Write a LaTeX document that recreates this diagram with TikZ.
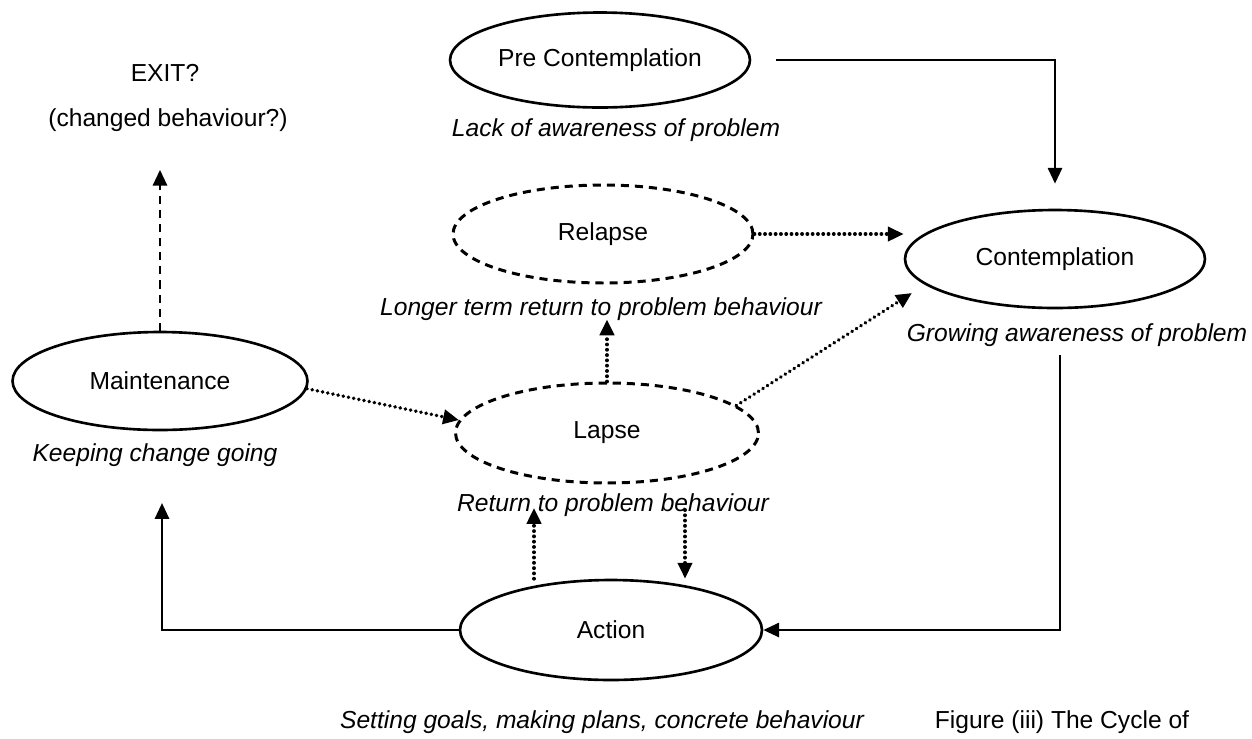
\documentclass[tikz,border=0pt]{standalone}
\usepackage{fontspec}
\setmainfont{Liberation Sans}
\usetikzlibrary{shapes.geometric,arrows.meta}
\begin{document}
\begin{tikzpicture}[x=0.02cm,y=-0.02cm,
  stage/.style={ellipse, draw, line width=1.5pt, inner sep=0pt,
    font=\fontsize{14}{17}\selectfont},
  loose/.style={stage, line width=1.7pt, dash pattern=on 4.6pt off 3.4pt},
  caption/.style={font=\fontsize{14}{17}\selectfont\itshape, inner sep=0pt},
  plain/.style={font=\fontsize{14}{17}\selectfont, inner sep=0pt},
  tip/.style={-{Triangle[length=9pt,width=8pt]}},
  arr/.style={tip, line width=1.5pt},
  dotarr/.style={tip, line width=2.2pt, line cap=round, dash pattern=on 0.01pt off 3pt},
  dasharr/.style={tip, line width=1.6pt, dash pattern=on 4.6pt off 3.4pt},
]
\useasboundingbox (0,0) rectangle (1252,738);

% stages of the cycle
\node[stage, minimum width=6cm, minimum height=1.9cm] (pre) at (600,60) {Pre Contemplation};
\node[caption] (lack) at (616,130) {Lack of awareness of problem};

\node[stage, minimum width=6cm, minimum height=1.96cm] (cont) at (1055,259) {Contemplation};
\node[caption] (grow) at (1077,335) {Growing awareness of problem};

\node[loose, minimum width=6cm, minimum height=1.96cm] (relapse) at (603,234) {Relapse};
\node[caption] (longer) at (601,309) {Longer term return to problem behaviour};

\node[loose, minimum width=6.06cm, minimum height=2cm] (lapse) at (607,433) {Lapse};
\node[caption] (ret) at (613,505) {Return to problem behaviour};

\node[stage, minimum width=5.9cm, minimum height=1.96cm] (maint) at (160,381) {Maintenance};
\node[caption] (keep) at (155,455) {Keeping change going};

\node[stage, minimum width=6.04cm, minimum height=2cm] (act) at (611,630) {Action};
\node[caption] (set) at (602,722) {Setting goals, making plans, concrete behaviour};

\node[plain] (fig) at (1062,722) {Figure (iii) The Cycle of};
\node[plain] (exit) at (165,73) {EXIT?};
\node[plain] (changed) at (168,120) {(changed behaviour?)};

% free ends of connectors
\coordinate (drop) at (1060,355);
\coordinate (mtip) at (162,503);
\coordinate (ctip) at (912,293);
\coordinate (dn) at (685,510);
\coordinate (up) at (534,508);

% main cycle
\draw[arr, shorten <=0.5cm, shorten >=0.5cm] (pre.east) -| (cont.north);
\draw[arr] (drop) |- (act.east);
\draw[arr] (act.west) -| (mtip);
\draw[dasharr, shorten >=0.76cm] (maint.north) -- (maint.north |- changed.south);

% lapse and relapse paths
\draw[dotarr] (maint.-3) -- (lapse.175);
\draw[dotarr, shorten >=0.7cm] (lapse.north) -- (lapse.north |- relapse.south);
\draw[dotarr] (relapse.east) -- (relapse.east -| cont.west);
\draw[dotarr] (lapse.12) -- (ctip);
\draw[dotarr] (dn) -- (dn |- act.north);
\draw[dotarr] (up |- act.north) -- (up);
\end{tikzpicture}
\end{document}
